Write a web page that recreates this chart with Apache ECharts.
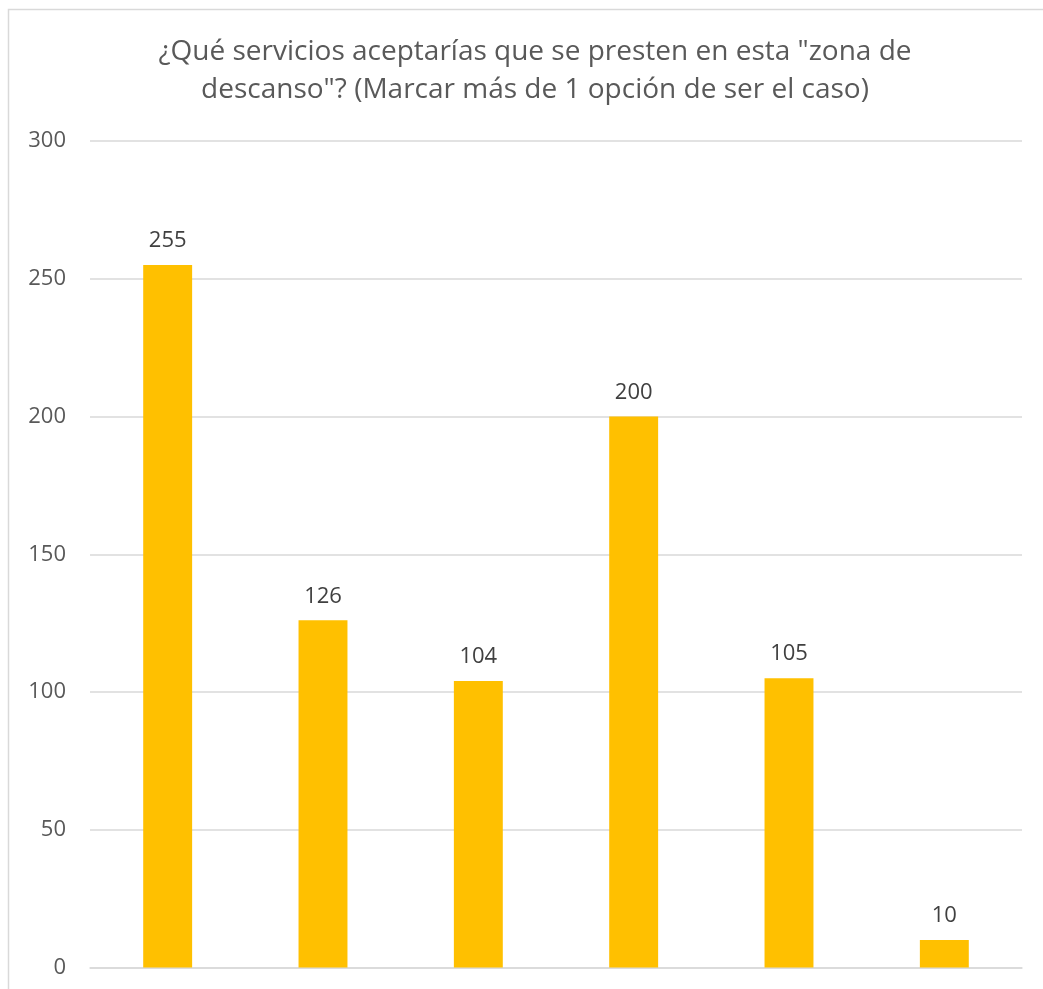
<!DOCTYPE html>
<html>
<head>
<meta charset="utf-8">
<script src="https://cdn.jsdelivr.net/npm/echarts@6/dist/echarts.min.js"></script>
<style>
  html, body { margin: 0; padding: 0; background: #ffffff; }
  #chart { width: 1043px; height: 989px; }
</style>
</head>
<body>
<div id="chart"></div>
<script>
// Survey answers: accepted services in the rest area
const categories = ['Opción 1', 'Opción 2', 'Opción 3', 'Opción 4', 'Opción 5', 'Opción 6'];
const responses = [255, 126, 104, 200, 105, 10];
const yTicks = [0, 50, 100, 150, 200, 250, 300];

const titleText = '¿Qué servicios aceptarías que se presten en esta "zona de\ndescanso"? (Marcar más de 1 opción de ser el caso)';

const chart = echarts.init(document.getElementById('chart'), null, { renderer: 'canvas' });

chart.setOption({
  backgroundColor: '#ffffff',
  animation: false,
  graphic: [{
    type: 'rect',
    shape: { x: 8.5, y: 9.5, width: 1100, height: 1100 },
    style: { fill: 'none', stroke: '#d9d9d9', lineWidth: 1.5 },
    silent: true,
    z: -1
  }],
  title: {
    text: titleText,
    left: 530,
    top: 28,
    textAlign: 'center',
    textStyle: {
      fontFamily: 'Open Sans',
      fontSize: 28,
      fontWeight: 'normal',
      color: '#595959',
      lineHeight: 38
    }
  },
  grid: {
    left: 90,
    right: 21,
    top: 141,
    bottom: 21.5,
    containLabel: false
  },
  xAxis: {
    type: 'category',
    data: categories,
    axisLine: { show: true, lineStyle: { color: '#d9d9d9', width: 1.5 } },
    axisTick: { show: false },
    axisLabel: { show: false },
    splitLine: { show: false }
  },
  yAxis: {
    type: 'value',
    min: yTicks[0],
    max: yTicks[yTicks.length - 1],
    interval: 50,
    axisLine: { show: false },
    axisTick: { show: false },
    axisLabel: {
      fontFamily: 'Open Sans',
      fontSize: 22,
      color: '#595959',
      margin: 24
    },
    splitLine: { lineStyle: { color: '#d9d9d9', width: 1.5 } }
  },
  series: [{
    type: 'bar',
    data: responses,
    barWidth: '31.5%',
    itemStyle: { color: '#ffc000' },
    label: {
      show: true,
      position: 'top',
      distance: 13,
      fontFamily: 'Open Sans',
      fontSize: 22,
      color: '#404040'
    }
  }]
});
</script>
</body>
</html>
